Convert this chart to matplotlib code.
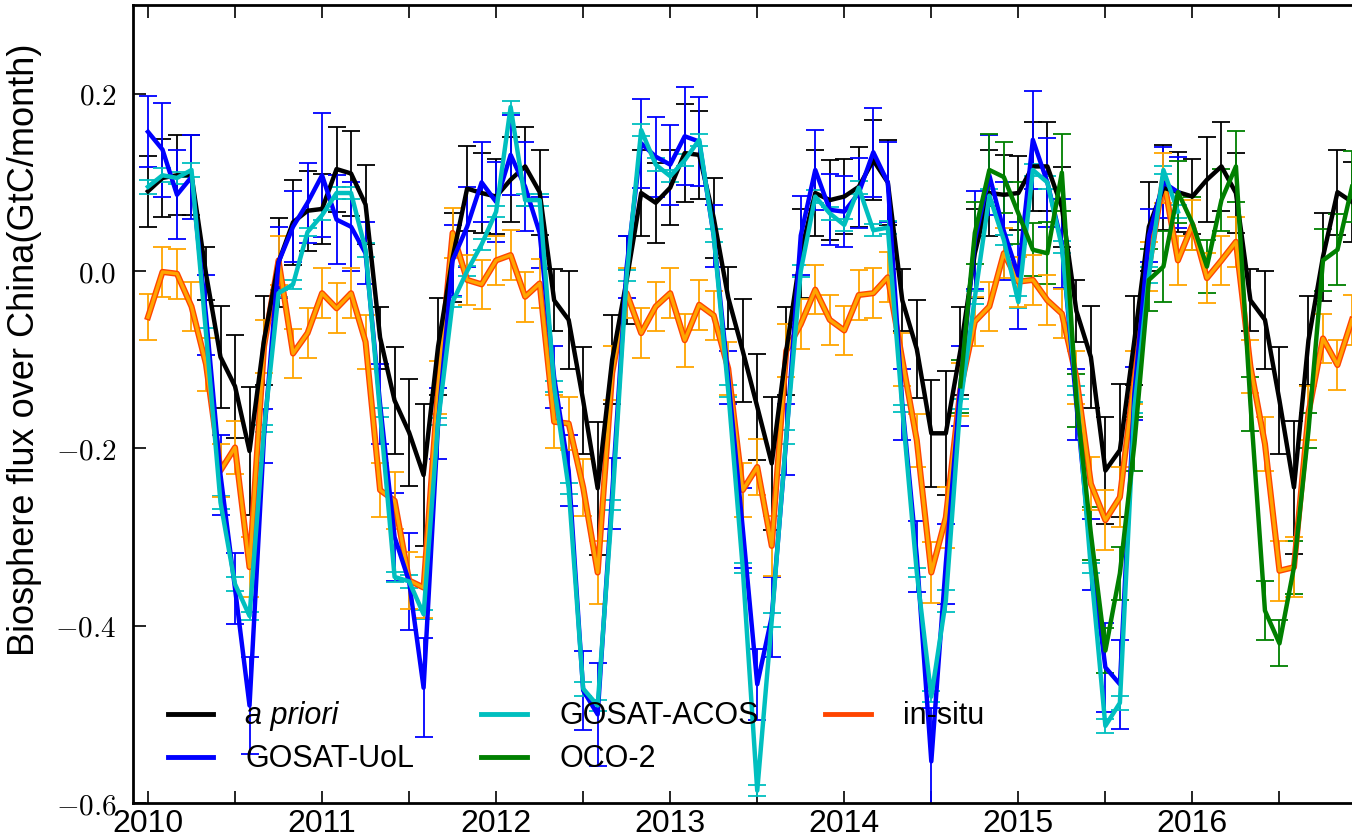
import numpy as np
import matplotlib
matplotlib.use('Agg')
import matplotlib.pyplot as plt
from matplotlib.lines import Line2D

plt.rcParams['font.family'] = ['Liberation Sans Narrow', 'Liberation Sans', 'DejaVu Sans']
plt.rcParams['mathtext.fontset'] = 'cm'

# monthly values, month 0 = Jan 2010
apriori = [0.090, 0.105, 0.108, 0.108, -0.003, -0.097, -0.130, -0.203, -0.078, 0.010, 0.055, 0.068,
           0.070, 0.115, 0.110, 0.075, -0.075, -0.146, -0.182, -0.230, -0.085, 0.015, 0.093, 0.088,
           0.084, 0.103, 0.118, 0.089, -0.033, -0.055, -0.146, -0.245, -0.100, -0.010, 0.088, 0.077,
           0.094, 0.133, 0.131, 0.060, -0.030, -0.090, -0.153, -0.217, -0.090, 0.020, 0.088, 0.080,
           0.084, 0.095, 0.125, 0.100, -0.033, -0.088, -0.183, -0.183, -0.090, 0.020, 0.088, 0.086,
           0.088, 0.118, 0.118, 0.072, -0.045, -0.097, -0.225, -0.202, -0.078, 0.050, 0.094, 0.089,
           0.084, 0.103, 0.118, 0.088, -0.033, -0.055, -0.146, -0.244, -0.078, 0.016, 0.089, 0.078]
apriori_err = [0.040, 0.044, 0.045, 0.045, 0.030, 0.058, 0.058, 0.072, 0.050, 0.050, 0.048, 0.045,
               0.040, 0.048, 0.048, 0.045, 0.035, 0.060, 0.060, 0.080, 0.055, 0.050, 0.048, 0.045,
               0.042, 0.048, 0.045, 0.048, 0.035, 0.055, 0.060, 0.075, 0.050, 0.050, 0.048, 0.045,
               0.042, 0.055, 0.050, 0.045, 0.035, 0.058, 0.060, 0.075, 0.050, 0.050, 0.048, 0.045,
               0.042, 0.045, 0.045, 0.048, 0.035, 0.055, 0.060, 0.070, 0.050, 0.050, 0.048, 0.045,
               0.042, 0.050, 0.050, 0.045, 0.035, 0.058, 0.060, 0.075, 0.050, 0.050, 0.048, 0.045,
               0.042, 0.048, 0.050, 0.045, 0.035, 0.055, 0.060, 0.075, 0.050, 0.050, 0.048, 0.045]

uol = [0.157, 0.137, 0.086, 0.106, -0.050, -0.230, -0.358, -0.490, -0.186, 0.010, 0.050, 0.077,
       0.108, 0.058, 0.050, 0.020, -0.150, -0.300, -0.350, -0.470, -0.172, 0.012, 0.050, 0.100,
       0.078, 0.131, 0.095, 0.043, -0.120, -0.225, -0.473, -0.500, -0.251, 0.005, 0.144, 0.129,
       0.120, 0.152, 0.146, 0.040, -0.120, -0.290, -0.466, -0.390, -0.190, 0.040, 0.114, 0.069,
       0.067, 0.088, 0.134, 0.100, -0.150, -0.322, -0.553, -0.330, -0.130, 0.035, 0.108, 0.045,
       -0.005, 0.148, 0.100, 0.031, -0.150, -0.320, -0.447, -0.466, -0.138, 0.040, 0.100, 0.089]
uol_err = [0.040, 0.053, 0.050, 0.047, 0.045, 0.045, 0.040, 0.055, 0.030, 0.040, 0.040, 0.045,
           0.070, 0.050, 0.050, 0.035, 0.045, 0.050, 0.055, 0.056, 0.040, 0.040, 0.045, 0.045,
           0.045, 0.045, 0.050, 0.040, 0.035, 0.040, 0.045, 0.058, 0.040, 0.035, 0.050, 0.045,
           0.045, 0.055, 0.050, 0.035, 0.030, 0.045, 0.040, 0.045, 0.040, 0.045, 0.045, 0.040,
           0.040, 0.040, 0.050, 0.045, 0.040, 0.040, 0.060, 0.045, 0.045, 0.055, 0.045, 0.055,
           0.060, 0.055, 0.050, 0.050, 0.040, 0.040, 0.050, 0.050, 0.030, 0.030, 0.040, 0.040]

acos = [0.095, 0.108, 0.105, 0.114, -0.070, -0.261, -0.353, -0.389, -0.178, -0.025, -0.015, 0.044,
        0.063, 0.088, 0.088, 0.024, -0.160, -0.345, -0.350, -0.387, -0.170, -0.035, 0.000, 0.030,
        0.067, 0.185, 0.080, 0.080, -0.130, -0.245, -0.471, -0.490, -0.264, -0.005, 0.159, 0.120,
        0.107, 0.125, 0.148, 0.040, -0.135, -0.335, -0.586, -0.394, -0.187, 0.000, 0.084, 0.065,
        0.052, 0.094, 0.046, 0.049, -0.155, -0.340, -0.480, -0.372, -0.150, -0.030, 0.085, 0.035,
        -0.035, 0.114, 0.100, 0.027, -0.135, -0.335, -0.513, -0.487, -0.154, -0.005, 0.114, 0.067]
acos_err = [0.008, 0.008, 0.007, 0.008, 0.006, 0.007, 0.008, 0.005, 0.004, 0.004, 0.005, 0.004,
            0.006, 0.007, 0.007, 0.008, 0.005, 0.006, 0.007, 0.005, 0.004, 0.006, 0.006, 0.006,
            0.006, 0.007, 0.007, 0.007, 0.006, 0.006, 0.008, 0.006, 0.006, 0.006, 0.007, 0.007,
            0.007, 0.007, 0.007, 0.007, 0.007, 0.006, 0.006, 0.008, 0.008, 0.007, 0.007, 0.007,
            0.007, 0.007, 0.007, 0.007, 0.004, 0.005, 0.006, 0.012, 0.006, 0.007, 0.007, 0.006,
            0.007, 0.007, 0.007, 0.007, 0.005, 0.006, 0.008, 0.008, 0.006, 0.009, 0.005, 0.007]

oco2_start = 56
oco2 = [-0.130, 0.043, 0.114, 0.106, 0.065, 0.024, 0.020, 0.111, -0.146, -0.296, -0.428, -0.341,
        -0.195, -0.010, 0.005, 0.089, 0.054, 0.005, 0.080, 0.118, -0.150, -0.383, -0.420, -0.334,
        -0.180, 0.012, 0.024, 0.095]
oco2_err = [0.030, 0.035, 0.041, 0.040, 0.035, 0.030, 0.035, 0.043, 0.030, 0.030, 0.025, 0.030,
            0.030, 0.035, 0.040, 0.035, 0.030, 0.030, 0.035, 0.040, 0.030, 0.033, 0.026, 0.030,
            0.020, 0.035, 0.040, 0.040]

insitu = [-0.052, -0.001, -0.003, -0.040, -0.105, -0.225, -0.199, -0.334, -0.085, 0.012, -0.093, -0.070,
          -0.025, -0.042, -0.025, -0.080, -0.247, -0.259, -0.349, -0.357, -0.131, 0.043, -0.010, -0.015,
          0.012, 0.018, -0.029, -0.014, -0.170, -0.172, -0.244, -0.340, -0.115, -0.025, -0.070, -0.040,
          -0.025, -0.078, -0.038, -0.050, -0.110, -0.247, -0.221, -0.310, -0.090, -0.060, -0.021, -0.055,
          -0.067, -0.027, -0.025, -0.007, -0.100, -0.191, -0.340, -0.278, -0.134, -0.057, -0.040, 0.020,
          -0.012, -0.010, -0.033, -0.048, -0.120, -0.240, -0.281, -0.255, -0.120, 0.005, 0.105, 0.012,
          0.052, -0.008, 0.012, 0.033, -0.108, -0.195, -0.338, -0.334, -0.160, -0.076, -0.106, -0.055]
insitu_err = [0.026, 0.028, 0.028, 0.028, 0.030, 0.030, 0.030, 0.034, 0.030, 0.028, 0.028, 0.028,
              0.028, 0.028, 0.028, 0.030, 0.030, 0.032, 0.032, 0.034, 0.030, 0.028, 0.028, 0.028,
              0.028, 0.028, 0.028, 0.028, 0.030, 0.030, 0.032, 0.036, 0.030, 0.028, 0.028, 0.028,
              0.028, 0.030, 0.028, 0.028, 0.030, 0.030, 0.032, 0.034, 0.030, 0.028, 0.028, 0.028,
              0.028, 0.028, 0.028, 0.028, 0.030, 0.030, 0.034, 0.034, 0.030, 0.028, 0.028, 0.028,
              0.028, 0.028, 0.028, 0.028, 0.030, 0.030, 0.034, 0.034, 0.030, 0.028, 0.028, 0.028,
              0.028, 0.028, 0.028, 0.028, 0.030, 0.030, 0.034, 0.034, 0.030, 0.028, 0.028, 0.028]

year_labels = ['2010', '2011', '2012', '2013', '2014', '2015', '2016']

m_all = np.arange(len(apriori))
m_sat = np.arange(len(uol))
m_oco = np.arange(oco2_start, oco2_start + len(oco2))

fig = plt.figure(figsize=(13.52, 8.4), dpi=100)
ax = fig.add_axes([0.0984, 0.044, 0.912, 0.950])

lw = 3.2
eb = dict(elinewidth=1.3, capsize=6.5, capthick=1.3)
ax.errorbar(m_all, apriori, yerr=apriori_err, color='k', lw=lw, **eb)
ax.errorbar(m_sat, uol, yerr=uol_err, color='b', lw=lw, **eb)
ax.errorbar(m_sat, acos, yerr=acos_err, color='c', lw=lw, **eb)
ax.errorbar(m_oco, oco2, yerr=oco2_err, color='g', lw=lw, **eb)
ax.errorbar(m_all, insitu, yerr=insitu_err, color='orange', fmt='none', **eb)
ax.plot(m_all, insitu, color='orangered', lw=4.4)
ax.plot(m_all, insitu, color='orange', lw=2.4)

ax.set_xlim(-1.03, 83.97)
ax.set_ylim(-0.6, 0.3)

# ticks every half year, labels on the years
ax.set_xticks(np.arange(0, 84, 6))
ax.set_xticklabels([year_labels[i // 2] if i % 2 == 0 else '' for i in range(14)])
ax.set_yticks([-0.6, -0.4, -0.2, 0.0, 0.2])
ax.set_yticklabels([r'$%.1f$' % v for v in [-0.6, -0.4, -0.2, 0.0, 0.2]])
ax.tick_params(axis='x', direction='in', length=9, width=1.2, labelsize=23, pad=4, top=True)
ax.tick_params(axis='y', direction='in', length=9, width=1.2, labelsize=21, pad=12, right=True)
for s in ax.spines.values():
    s.set_linewidth(2.0)

ax.set_ylabel('Biosphere flux over China(GtC/month)', fontsize=26)
ax.yaxis.set_label_coords(-0.074, 0.568)

handles = [Line2D([], [], color='k', lw=3.5), Line2D([], [], color='b', lw=3.5),
           Line2D([], [], color='c', lw=3.5), Line2D([], [], color='g', lw=3.5),
           Line2D([], [], color='orangered', lw=3.5)]
leg = ax.legend(handles, ['a priori', 'GOSAT-UoL', 'GOSAT-ACOS', 'OCO-2', 'in-situ'],
                ncol=3, frameon=False, loc='lower left', bbox_to_anchor=(0.028, 0.036),
                borderaxespad=0, borderpad=0, fontsize=22, handlelength=1.5,
                handletextpad=1.05, columnspacing=2.18, labelspacing=0.42)
leg.get_texts()[0].set_style('italic')

fig.savefig('out.png', dpi=100)
